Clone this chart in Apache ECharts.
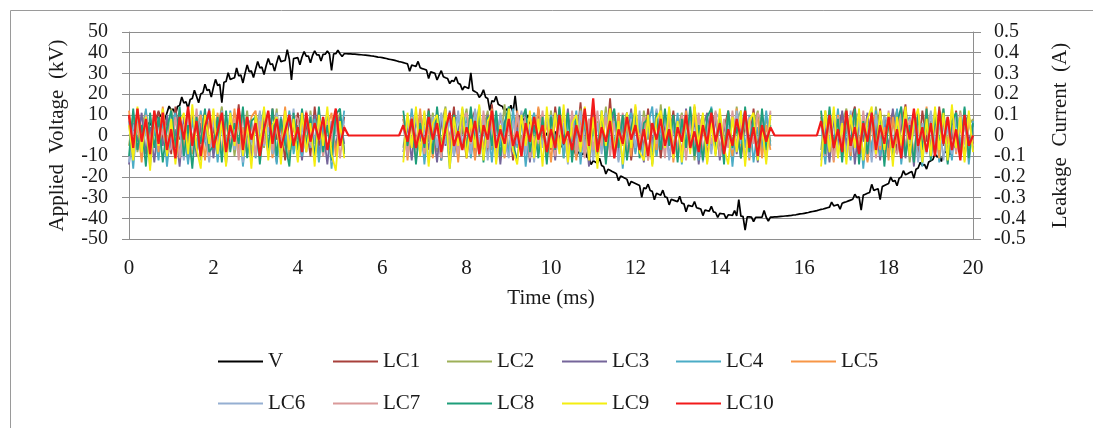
<!DOCTYPE html>
<html>
<head>
<meta charset="utf-8">
<script src="https://cdn.jsdelivr.net/npm/echarts@6/dist/echarts.min.js"></script>
<style>html,body{margin:0;padding:0;background:#fff;}#c{width:1093px;height:428px;}</style>
</head>
<body>
<div id="c"></div>
<script>
const _ = null;
// sampling steps of the records (ms)
const vStepMs = 0.05;
const lcStepMs = 0.1;
const xTicksMs = [0, 2, 4, 6, 8, 10, 12, 14, 16, 18, 20];
const seriesNames = ['V','LC1','LC2','LC3','LC4','LC5','LC6','LC7','LC8','LC9','LC10'];

// Applied voltage (kV), one value per 0.05 ms
const voltageKV = [
0.0,0.6,3.4,1.9,2.5,0.8,3.7,4.3,7.9,5.6,
6.2,4.1,7.4,8.0,11.3,9.2,9.8,7.6,11.0,14.2,
12.2,12.8,9.9,14.0,14.5,18.6,15.7,16.3,13.1,17.4,
17.9,21.9,19.0,15.8,20.1,20.6,24.8,21.7,22.2,18.6,
23.2,27.1,24.2,24.7,15.9,25.7,26.1,30.3,27.0,27.5,
27.9,32.6,28.8,29.2,25.4,30.0,34.1,30.8,31.2,28.0,
32.0,35.8,32.7,33.0,29.5,33.7,37.2,34.3,34.6,31.1,
35.2,38.6,35.7,36.0,36.3,41.5,36.7,26.9,37.2,37.4,
37.6,34.2,37.9,40.5,38.3,38.4,35.1,38.7,40.9,38.9,
39.0,36.0,39.2,39.3,40.8,39.4,31.4,39.5,39.5,41.2,
39.5,38.2,39.5,39.5,39.4,39.4,39.3,39.3,39.2,39.1,
39.0,38.9,38.8,38.7,38.6,38.4,38.3,38.1,37.9,37.8,
37.6,37.4,37.2,36.9,36.7,36.5,36.3,36.0,35.7,35.5,
35.2,34.9,34.6,31.0,34.0,33.7,33.4,35.8,32.7,32.3,
32.0,31.6,27.5,30.8,30.4,30.0,26.8,29.2,31.3,28.4,
27.9,27.5,25.1,26.6,26.1,28.3,25.2,24.7,22.0,23.7,
23.2,22.7,30.3,21.7,21.2,20.6,18.4,19.6,22.1,18.5,
17.9,12.1,16.8,16.3,18.9,15.1,14.5,14.0,11.2,12.8,
12.2,14.6,11.0,19.1,9.8,9.2,6.3,8.0,7.4,9.9,
6.2,3.1,5.0,4.3,6.9,3.1,2.5,-0.8,1.2,0.6,
0.0,-0.6,1.9,-1.9,-2.5,-5.6,-3.7,-4.3,-2.1,-5.6,
-6.2,-6.8,-10.1,-8.0,-8.6,-9.2,-6.9,-10.4,-11.0,-14.0,
-12.2,-12.8,-13.4,-11.0,-14.5,-15.1,-18.6,-16.3,-16.8,-17.4,
-17.9,-18.5,-21.8,-19.6,-20.1,-20.6,-21.2,-24.3,-22.2,-22.7,
-23.2,-23.7,-24.2,-29.9,-25.2,-25.7,-23.5,-26.6,-27.0,-31.0,
-27.9,-28.4,-28.8,-26.4,-29.6,-30.0,-33.5,-30.8,-31.2,-31.6,
-32.0,-29.4,-32.7,-33.0,-36.8,-33.7,-34.0,-34.3,-31.9,-34.9,
-35.2,-35.5,-38.7,-36.0,-36.3,-36.5,-34.2,-36.9,-37.2,-39.6,
-37.6,-37.8,-37.9,-40.2,-38.3,-38.4,-38.6,-36.3,-38.8,-31.0,
-39.0,-39.1,-45.7,-39.3,-39.3,-39.4,-41.6,-39.5,-39.5,-39.5,
-39.5,-36.2,-39.5,-41.3,-39.4,-39.4,-39.3,-39.3,-39.2,-39.1,
-39.0,-38.9,-38.8,-38.7,-38.6,-38.4,-38.3,-38.1,-37.9,-37.8,
-37.6,-37.4,-37.2,-36.9,-36.7,-36.5,-36.3,-36.0,-35.7,-35.5,
-35.2,-34.9,-34.6,-32.2,-34.0,-33.7,-33.4,-35.6,-32.7,-32.3,
-32.0,-31.6,-31.2,-30.8,-28.4,-30.0,-29.6,-36.0,-28.8,-28.4,
-27.9,-27.5,-23.6,-26.6,-26.1,-25.7,-31.0,-24.7,-24.2,-23.7,
-23.2,-20.1,-22.2,-21.7,-24.3,-20.6,-20.1,-17.0,-19.0,-18.5,
-17.9,-17.4,-20.6,-16.3,-15.7,-13.0,-14.5,-14.0,-16.2,-12.8,
-12.2,-11.6,-8.9,-10.4,-9.8,-12.6,-8.6,-8.0,-7.4,-9.3,
-6.2,-5.6,-3.1,-4.3,-3.7,-5.5,-2.5,-1.9,-1.2,-0.6,
0.0
];

// Leakage currents, in units of 0.01 A, one value per 0.1 ms (_ = not recorded)
const lc1 = [
9,-6,13,-4,7,-11,5,12,-3,8,
-9,14,-2,6,-12,10,-5,3,11,-7,
4,-10,12,-6,8,-3,15,-8,2,-11,
10,-4,7,-9,13,-2,5,-12,9,-6,
11,-3,6,-10,14,-5,3,8,-7,12,
-4,9,_,_,_,_,_,_,_,_,
_,_,_,_,_,8,-6,11,-3,5,
-10,13,-4,7,-12,9,-2,14,-8,4,
-11,6,12,-5,3,-9,15,-7,10,-3,
8,-12,5,11,-6,2,-10,13,-4,9,
-7,14,-3,6,-11,10,-5,16,-8,3,
12,-9,4,-6,18,-10,7,-3,11,-12,
5,9,-7,13,-4,8,-11,6,-2,12,
-9,4,10,-6,14,-3,7,-10,5,11,
-8,3,12,-5,9,-11,6,-4,13,-7,
10,-3,8,_,_,_,_,_,_,_,
_,_,_,_,9,-5,12,-8,4,11,
-10,7,14,-4,6,-12,9,-3,13,-8,
5,11,-9,4,15,-6,8,-11,12,-3,
7,-10,14,-5,9,-2,12,-8,6,10,
-4
];
const lc2 = [
-5,10,-8,4,12,-6,9,-3,7,-10,
13,-4,6,-9,11,-2,8,-12,5,10,
-7,3,14,-5,9,-10,6,-3,12,-8,
4,11,-6,8,-3,13,-9,5,-11,7,
-2,10,-8,12,-4,6,-10,9,-5,3,
11,-7,_,_,_,_,_,_,_,_,
_,_,_,_,_,-6,10,-4,12,-9,
7,-3,11,-8,5,14,-6,9,-11,4,
13,-5,8,-10,3,12,-7,6,-4,15,
-9,5,10,-3,7,-12,11,-6,4,-8,
12,-4,9,-11,6,3,-7,13,-5,8,
-10,7,-3,14,-6,9,-12,5,11,-4,
8,-9,12,-2,6,-10,15,-5,9,-7,
3,11,-6,8,-12,4,10,-3,13,-9,
6,-4,11,-8,14,-3,7,-10,5,12,
-6,9,-3,_,_,_,_,_,_,_,
_,_,_,_,-7,12,-4,8,-10,6,
13,-5,9,-11,4,7,-8,14,-3,10,
-9,6,12,-4,8,-13,5,10,-6,3,
11,-7,4,13,-9,6,-3,12,-10,5,
8
];
const lc3 = [
-14,6,-3,11,-9,4,-13,8,-5,10,
-7,3,-15,9,-4,12,-10,6,-2,13,
-11,5,8,-14,7,-3,10,-9,4,-12,
6,-8,12,-5,3,-13,9,-4,11,-7,
5,-12,8,-3,10,-9,4,-14,7,-6,
9,-4,_,_,_,_,_,_,_,_,
_,_,_,_,_,-8,5,-12,9,-3,
11,-7,4,-13,8,-5,12,-10,3,9,
-6,13,-11,5,-8,10,-3,7,-14,6,
12,-9,4,-6,11,-13,8,-3,10,-7,
5,-12,9,-4,13,-8,3,-10,7,-15,
10,-5,8,-12,4,11,-9,6,-3,13,
-8,5,-13,9,-6,12,-4,10,-11,3,
7,-10,13,-5,8,-14,4,11,-7,9,
-12,6,-4,10,-9,3,12,-8,5,-13,
8,-6,11,_,_,_,_,_,_,_,
_,_,_,_,-10,4,-13,9,-6,12,
-5,10,-14,7,-3,11,-9,5,-12,8,
-6,13,-4,9,-11,6,-15,10,-3,7,
-9,12,-5,8,-13,4,10,-7,11,-4,
6
];
const lc4 = [
7,-16,10,-5,13,-8,3,-12,9,-15,
5,11,-9,4,-14,8,-6,12,-3,-10,
9,-13,6,-7,12,-4,10,-15,5,8,
-11,4,13,-8,6,-14,9,-5,12,-9,
3,-10,11,-6,8,-13,5,10,-16,7,
-5,12,_,_,_,_,_,_,_,_,
_,_,_,_,_,5,-9,13,-7,10,
-14,6,-4,11,-12,8,-16,5,10,-6,
9,-11,4,14,-8,6,-13,11,-5,7,
-10,13,-6,8,-15,4,11,-9,6,-12,
10,-5,13,-11,7,-3,12,-14,8,-6,
4,-13,10,-7,12,-4,9,-16,6,11,
-9,7,-12,5,14,-10,4,-6,13,-8,
11,-14,6,-3,10,-12,8,-5,14,-9,
5,-11,9,-15,7,12,-6,10,-13,4,
-8,12,-5,_,_,_,_,_,_,_,
_,_,_,_,6,-14,10,-5,13,-9,
4,-12,8,11,-16,6,-7,12,-10,5,
10,-8,13,-14,5,9,-11,7,-15,12,
-6,11,-13,8,4,-12,9,-7,13,-14,
7
];
const lc5 = [
12,-7,5,-13,9,-4,11,-8,14,-3,
6,-11,8,-5,13,-9,4,10,-12,7,
-3,11,-9,6,-5,13,-7,4,-10,9,
12,-6,3,10,-11,7,-4,14,-8,5,
-9,12,-3,7,-12,9,-6,4,11,-10,
6,-8,_,_,_,_,_,_,_,_,
_,_,_,_,_,10,-12,6,-5,13,
-8,4,-11,9,-6,12,-3,8,-13,11,
-4,7,-12,10,-6,3,13,-9,5,-11,
8,-5,12,-10,3,9,-7,14,-4,6,
-13,9,-5,11,-8,4,-12,7,10,-4,
9,-11,6,-3,13,-8,11,-5,7,-10,
14,-4,8,-12,6,-7,11,-3,9,-13,
5,-9,12,-6,10,-4,7,-13,8,-5,
11,-7,4,-10,13,-5,9,-12,6,8,
-11,5,-7,_,_,_,_,_,_,_,
_,_,_,_,11,-8,5,-13,10,-4,
7,-10,12,-5,9,-13,6,10,-7,4,
-12,9,-4,13,-7,5,-10,11,-3,14,
-8,6,-11,10,-4,13,-9,5,-12,8,
-3
];
const lc6 = [
-13,4,9,-7,3,-15,8,-4,11,-6,
10,-8,3,-12,7,-5,11,-9,4,-13,
8,-5,12,-11,4,-7,9,-13,6,-3,
-8,12,-5,4,-9,11,-6,8,-3,13,
-12,5,-8,10,-4,12,-9,6,-13,9,
-3,7,_,_,_,_,_,_,_,_,
_,_,_,_,_,-11,7,-4,10,-8,
5,-13,9,-6,11,-4,8,-10,12,-5,
6,-9,13,-4,8,-12,5,-7,11,-3,
-11,7,-4,12,-9,5,-13,8,-6,10,
-4,11,-8,6,-14,9,-5,12,-7,4,
-12,6,-9,11,-5,7,-13,10,-4,8,
-6,12,-10,4,-8,13,-5,9,-12,7,
-11,6,-4,12,-7,9,-13,5,-9,11,
8,-10,5,-7,12,-4,10,-11,7,-9,
4,-12,9,_,_,_,_,_,_,_,
_,_,_,_,-12,7,-4,11,-8,5,
-9,12,-6,8,-11,4,-13,10,-5,9,
7,-11,5,-8,12,-4,10,-13,6,-9,
12,-5,8,-12,6,-9,11,-4,7,-11,
4
];
const lc7 = [
8,-11,6,-4,10,-8,12,-5,3,-9,
-6,9,-11,5,8,-7,13,-4,9,-10,
12,-4,-8,10,-6,8,-12,11,-5,6,
-10,7,-4,11,-7,5,-12,9,-5,10,
8,-6,12,-4,-8,11,-10,7,-3,9,
-11,5,_,_,_,_,_,_,_,_,
_,_,_,_,_,6,-10,9,-12,4,
-9,10,-5,6,-11,12,-7,4,-9,8,
11,-4,6,-9,12,-6,8,-12,4,-10,
5,-8,11,-5,9,-11,6,-4,12,-9,
7,-10,4,9,-6,12,-9,5,-11,8,
-7,12,-5,9,-10,6,-4,11,-8,5,
10,-6,9,-12,5,-4,8,-11,12,-5,
-7,10,-12,7,-5,11,-9,6,-4,12,
-10,8,-6,12,-5,7,-12,9,-4,11,
6,-9,12,_,_,_,_,_,_,_,
_,_,_,_,8,-10,6,-12,9,-5,
11,-8,5,-10,12,-6,8,-11,4,-9,
12,-5,-9,11,-6,8,-12,5,-10,9,
-11,8,-6,10,-12,5,-8,11,-4,9,
-5
];
const lc8 = [
-10,13,-7,5,-15,11,-6,9,-13,4,
12,-6,14,-10,5,-16,9,-4,13,-8,
-5,9,-13,12,-8,6,-4,14,-11,7,
9,-14,5,-6,13,-10,8,-4,-15,11,
-7,13,-5,9,-11,14,-8,5,-12,10,
13,-9,_,_,_,_,_,_,_,_,
_,_,_,_,_,12,-5,8,-14,6,
-6,12,-9,14,-5,7,-13,10,-4,13,
-8,14,-6,11,-13,9,-5,12,-10,6,
14,-4,-12,7,13,-8,5,-11,9,-14,
9,-7,14,-4,11,-13,8,-6,13,-10,
5,-9,12,-14,7,13,-6,10,-12,4,
12,-11,6,8,-14,11,-7,13,-5,10,
-13,8,-6,14,-10,5,-12,9,13,-6,
9,-14,12,-6,4,-11,14,-8,10,-12,
13,-7,5,_,_,_,_,_,_,_,
_,_,_,_,12,-9,14,-6,8,-13,
10,-5,13,-14,7,-9,12,-4,11,-15,
8,-12,6,14,-10,5,-13,11,-7,13,
-12,9,-5,13,-14,7,11,-9,14,-11,
6
];
const lc9 = [
5,-12,14,-8,9,-17,11,-5,13,-10,
8,-14,6,11,-9,15,-6,-16,10,-4,
13,-9,7,-15,11,-5,12,-10,6,-16,
10,-6,14,-12,5,9,-14,12,-7,8,
-13,11,-8,6,-15,10,-5,14,-9,-17,
7,-11,_,_,_,_,_,_,_,_,
_,_,_,_,_,-13,11,-6,14,-10,
12,-15,6,10,-8,13,-16,9,-5,14,
-11,8,-6,15,-12,7,11,-14,5,-9,
13,-7,-14,10,-5,12,-11,8,-15,14,
-6,11,-9,15,-13,6,10,-8,14,-12,
9,-16,12,-5,13,-9,7,-14,11,-6,
15,-8,-12,10,-15,8,12,-6,14,-11,
7,-13,10,-9,15,-5,11,-14,6,-10,
13,-6,-14,9,-8,12,-15,7,11,-12,
5,-14,10,_,_,_,_,_,_,_,
_,_,_,_,-15,12,-8,14,-11,6,
-14,10,-6,13,-12,8,14,-9,12,-7,
11,-15,9,-5,14,-10,7,13,-13,8,
-10,14,-7,11,-12,15,-6,9,-13,12,
-8
];
const lc10 = [
10,-6,13,-3,8,-9,12,-4,11,-7,
3,-11,9,-2,14,-5,7,-10,4,12,
-6,2,11,-8,5,-3,13,-7,9,-2,
6,-10,3,12,-4,8,-6,2,10,-5,
4,-8,11,-3,6,-2,9,-7,3,13,
-5,4,0,0,0,0,0,0,0,0,
0,0,0,0,0,5,-3,8,-6,3,
-4,9,-2,6,-8,3,11,-5,2,-7,
4,-3,7,-9,5,-2,12,-6,3,-4,
8,-5,2,-10,6,-3,9,-2,5,-8,
3,-6,10,-4,2,-7,5,-3,13,-5,
18,-8,4,-3,7,-11,3,-4,9,-2,
5,-7,3,-10,6,-2,8,-5,3,-9,
4,-3,10,-6,2,-8,5,-4,11,-3,
6,-9,3,-5,8,-2,12,-6,4,-10,
5,-3,4,0,0,0,0,0,0,0,
0,0,0,0,7,-4,10,-6,3,-8,
12,-5,4,-9,6,-3,11,-7,5,-4,
9,-6,3,-11,8,-2,13,-5,4,-8,
6,-10,12,-4,9,-7,3,-12,10,-5,
0
];
const currentsCentiA = [lc1, lc2, lc3, lc4, lc5, lc6, lc7, lc8, lc9, lc10];

const colors = ['#000000','#A8403B','#9DB058','#75659A','#4BACC6','#F79646','#95AFD2','#DA9A9A','#1E9E7A','#F4EE10','#F21A1A'];

function toPairs(arr, step, scale) {
  return arr.map((v, i) => [Math.round(i * step * 100) / 100, v === null ? '-' : Math.round(v * scale * 1000) / 1000]);
}

const FONT = 'Liberation Serif';
const FS = 21;
const TXT = '#1a1a1a';
const series = [{
  name: 'V', type: 'line', yAxisIndex: 0, symbol: 'none',
  data: toPairs(voltageKV, vStepMs, 1),
  lineStyle: { color: colors[0], width: 1.7 }, itemStyle: { color: colors[0] },
  z: 2, animation: false
}];
currentsCentiA.forEach((arr, k) => {
  series.push({
    name: seriesNames[k + 1], type: 'line', yAxisIndex: 1, symbol: 'none',
    data: toPairs(arr, lcStepMs, 0.01), connectNulls: false,
    lineStyle: { color: colors[k + 1], width: k === 9 ? 2.2 : 1.8 }, itemStyle: { color: colors[k + 1] },
    z: 3 + k, animation: false
  });
});

const colLeft = [218, 333, 447, 562, 676, 791];
const legends = seriesNames.map((n, i) => {
  const row = i < 6 ? 0 : 1;
  const col = i < 6 ? i : i - 6;
  return {
    data: [n], left: colLeft[col], top: row === 0 ? 351 : 393,
    icon: 'rect', itemWidth: 45, itemHeight: 2, itemGap: 0, padding: 0,
    textStyle: { fontFamily: FONT, fontSize: FS, color: TXT },
    selectedMode: false
  };
});

const gridColor = '#8e8e8e';
const yLabel = { margin: 21, fontFamily: FONT, fontSize: 20, lineHeight: 16, color: TXT };
const option = {
  animation: false,
  backgroundColor: '#ffffff',
  color: colors,
  graphic: [{
    type: 'rect', left: 8, top: 8, silent: true,
    shape: { width: 1100, height: 440 },
    style: { fill: 'none', stroke: '#9a9a9a', lineWidth: 1 }
  }],
  legend: legends,
  grid: { left: 129, right: 120, top: 32, bottom: 189, containLabel: false },
  xAxis: {
    type: 'value', min: xTicksMs[0], max: xTicksMs[xTicksMs.length - 1], interval: 2,
    name: 'Time (ms)', nameLocation: 'middle', nameGap: 49,
    nameTextStyle: { fontFamily: FONT, fontSize: FS, color: TXT },
    axisLine: { show: true, onZero: false, lineStyle: { color: gridColor, width: 1 } },
    axisTick: { show: false }, splitLine: { show: false },
    axisLabel: { margin: 19, fontFamily: FONT, fontSize: FS, color: TXT }
  },
  yAxis: [{
    type: 'value', min: -50, max: 50, interval: 10, position: 'left',
    name: 'Applied  Voltage  (kV)', nameLocation: 'middle', nameGap: 61, nameRotate: 90,
    nameTextStyle: { fontFamily: FONT, fontSize: FS, color: TXT },
    axisLine: { show: true, onZero: false, lineStyle: { color: gridColor, width: 1 } },
    axisTick: { show: true, length: 7, lineStyle: { color: gridColor } },
    splitLine: { show: true, lineStyle: { color: gridColor, width: 1 } },
    axisLabel: Object.assign({}, yLabel)
  }, {
    type: 'value', min: -0.5, max: 0.5, interval: 0.1, position: 'right',
    name: 'Leakage  Current  (A)', nameLocation: 'middle', nameGap: 77, nameRotate: 90,
    nameTextStyle: { fontFamily: FONT, fontSize: FS, color: TXT },
    axisLine: { show: true, onZero: false, lineStyle: { color: gridColor, width: 1 } },
    axisTick: { show: true, length: 8, lineStyle: { color: gridColor } },
    splitLine: { show: false },
    axisLabel: Object.assign({}, yLabel, { formatter: v => String(Math.round(v * 10) / 10) })
  }],
  series: series
};

const chart = echarts.init(document.getElementById('c'), null, { renderer: 'canvas' });
chart.setOption(option);
</script>
</body>
</html>
